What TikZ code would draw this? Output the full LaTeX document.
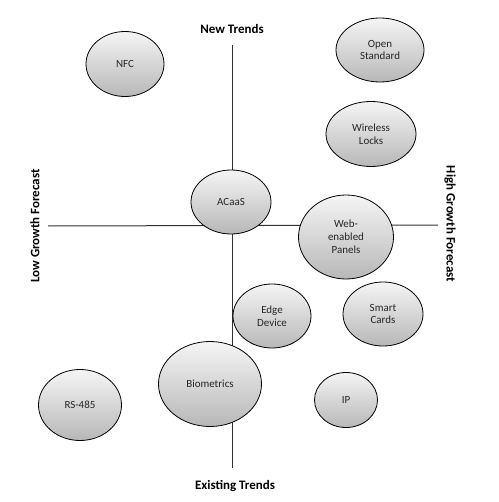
\documentclass[tikz,border=0pt]{standalone}
\usepackage{fontspec}
\setmainfont{Carlito}
\usetikzlibrary{shapes.geometric}
\begin{document}
\begin{tikzpicture}[x=1bp,y=-1bp,
  bubble/.style={ellipse,draw=black,line width=0.8bp,inner sep=0pt,
    top color=black!4,bottom color=black!28,align=center,
    font=\fontsize{11}{13}\selectfont,text=black!85},
  axis/.style={draw=black!80,line width=1bp},
  axlabel/.style={font=\fontsize{13}{15}\selectfont\bfseries,text=black,inner sep=0pt}]
\useasboundingbox (0,0) rectangle (499,502);
% axis labels
\node[axlabel] (newt) at (232,29) {New Trends};
\node[axlabel] (exist) at (235,486) {Existing Trends};
\node[axlabel,rotate=90] (low) at (35,226) {Low Growth Forecast};
\node[axlabel,rotate=-90] (high) at (450,224) {High Growth Forecast};
% axes
\coordinate (vtop) at (232.5,45);
\coordinate (vbot) at (232.5,468);
\coordinate (hl) at (48,226);
\coordinate (hr) at (438,225);
\draw[axis] (vtop) -- (vbot);
\draw[axis] (hl) -- (hr);
% bubbles
\node[bubble,minimum width=78bp,minimum height=65bp] (nfc) at (125,64) {NFC};
\node[bubble,minimum width=88bp,minimum height=64bp] (open) at (380,50) {Open\\Standard};
\node[bubble,minimum width=90bp,minimum height=65bp] (wire) at (371,134) {Wireless\\Locks};
\node[bubble,minimum width=80bp,minimum height=64bp] (acaas) at (231,202) {ACaaS};
\node[bubble,minimum width=95bp,minimum height=84bp] (web) at (346,237) {Web-\\enabled\\Panels};
\node[bubble,minimum width=78bp,minimum height=64bp] (edge) at (272,316) {Edge\\Device};
\node[bubble,minimum width=80bp,minimum height=64bp] (smart) at (383,314) {Smart\\Cards};
\node[bubble,minimum width=103bp,minimum height=85bp] (bio) at (210,384) {Biometrics};
\node[bubble,minimum width=63bp,minimum height=55bp] (ip) at (346,400) {IP};
\node[bubble,minimum width=83bp,minimum height=71bp] (rs) at (80,405) {RS-485};
\end{tikzpicture}
\end{document}
